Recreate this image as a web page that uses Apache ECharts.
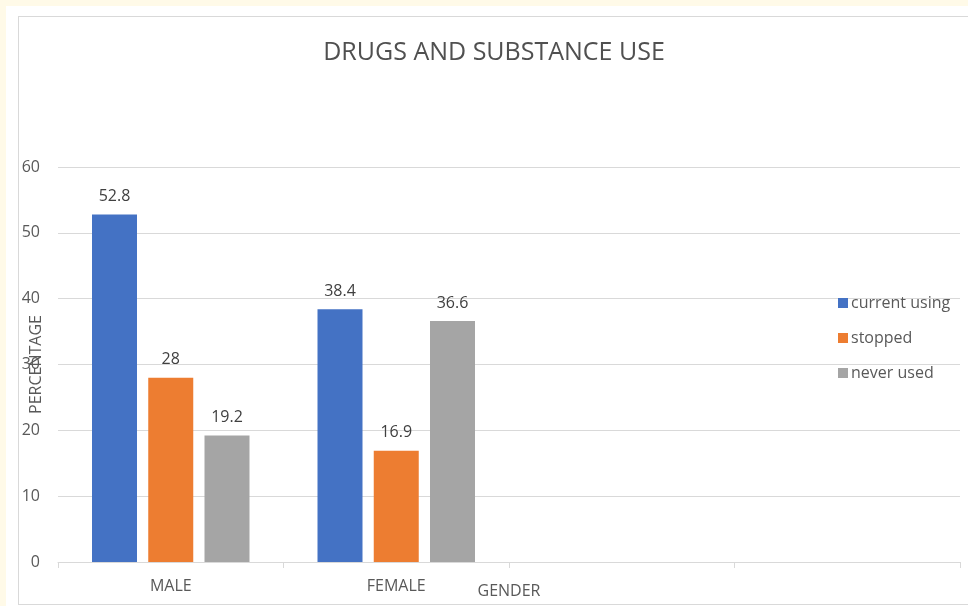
<!DOCTYPE html>
<html>
<head>
<meta charset="utf-8">
<script src="https://cdn.jsdelivr.net/npm/echarts@6/dist/echarts.min.js"></script>
<style>
  html, body { margin: 0; padding: 0; width: 968px; height: 606px; overflow: hidden; background: #fffae8; }
  #sheet { position: absolute; left: 6px; top: 6px; width: 980px; height: 620px; background: #ffffff; }
  #frame { position: absolute; left: 18px; top: 16px; width: 980px; height: 587px; border: 1px solid #d9d9d9; background: #ffffff; }
  #chart { position: absolute; left: 0; top: 0; width: 968px; height: 606px; }
</style>
</head>
<body>
<div id="sheet"></div>
<div id="frame"></div>
<div id="chart"></div>
<script>
  // Gender categories (the last two slots are empty on the axis)
  const categories = ['MALE', 'FEMALE', '', ''];
  const seriesNames = ['current using', 'stopped', 'never used'];
  const currentUsing = [52.8, 38.4];
  const stopped = [28, 16.9];
  const neverUsed = [19.2, 36.6];
  const seriesColors = ['#4472C4', '#ED7D31', '#A5A5A5'];
  const yTicks = { min: 0, max: 60, interval: 10 };

  const font = '"Open Sans", "Noto Sans", sans-serif';
  const textColor = '#595959';

  const chart = echarts.init(document.getElementById('chart'), null, { renderer: 'canvas' });

  const seriesData = [currentUsing, stopped, neverUsed];

  chart.setOption({
    backgroundColor: 'transparent',
    animation: false,
    title: {
      text: 'DRUGS AND SUBSTANCE USE',
      left: 489,
      top: 35,
      textAlign: 'center',
      textStyle: { fontFamily: font, fontSize: 25, fontWeight: 'normal', color: '#505050' }
    },
    legend: {
      orient: 'vertical',
      left: 833,
      top: 290,
      itemWidth: 10,
      itemHeight: 10,
      itemGap: 19,
      icon: 'rect',
      data: seriesNames,
      textStyle: { fontFamily: font, fontSize: 16, color: textColor, padding: [0, 0, 0, -2] }
    },
    grid: { left: 58, right: 8, top: 167, bottom: 44, containLabel: false, outerBoundsMode: 'none' },
    xAxis: {
      type: 'category',
      data: categories,
      name: 'GENDER',
      nameLocation: 'middle',
      nameGap: 21,
      nameMoveOverlap: false,
      nameTextStyle: { fontFamily: font, fontSize: 16, color: textColor },
      axisLine: { lineStyle: { color: '#d9d9d9' } },
      axisTick: { show: true, alignWithLabel: false, length: 6, lineStyle: { color: '#d9d9d9' } },
      axisLabel: { fontFamily: font, fontSize: 16, color: textColor, margin: 16 }
    },
    yAxis: {
      type: 'value',
      min: yTicks.min,
      max: yTicks.max,
      interval: yTicks.interval,
      name: 'PERCENTAGE',
      nameLocation: 'middle',
      nameGap: 14,
      nameMoveOverlap: false,
      nameTextStyle: { fontFamily: font, fontSize: 16, color: textColor },
      axisLine: { show: false },
      axisTick: { show: false },
      axisLabel: { fontFamily: font, fontSize: 16, color: textColor, margin: 18 },
      splitLine: { lineStyle: { color: '#d9d9d9' } }
    },
    series: seriesNames.map((name, i) => ({
      name,
      type: 'bar',
      data: seriesData[i],
      barWidth: 45,
      barGap: '25%',
      itemStyle: { color: seriesColors[i] },
      label: {
        show: true,
        position: 'top',
        distance: 10,
        fontFamily: font,
        fontSize: 16,
        color: '#404040'
      }
    }))
  });
</script>
</body>
</html>
